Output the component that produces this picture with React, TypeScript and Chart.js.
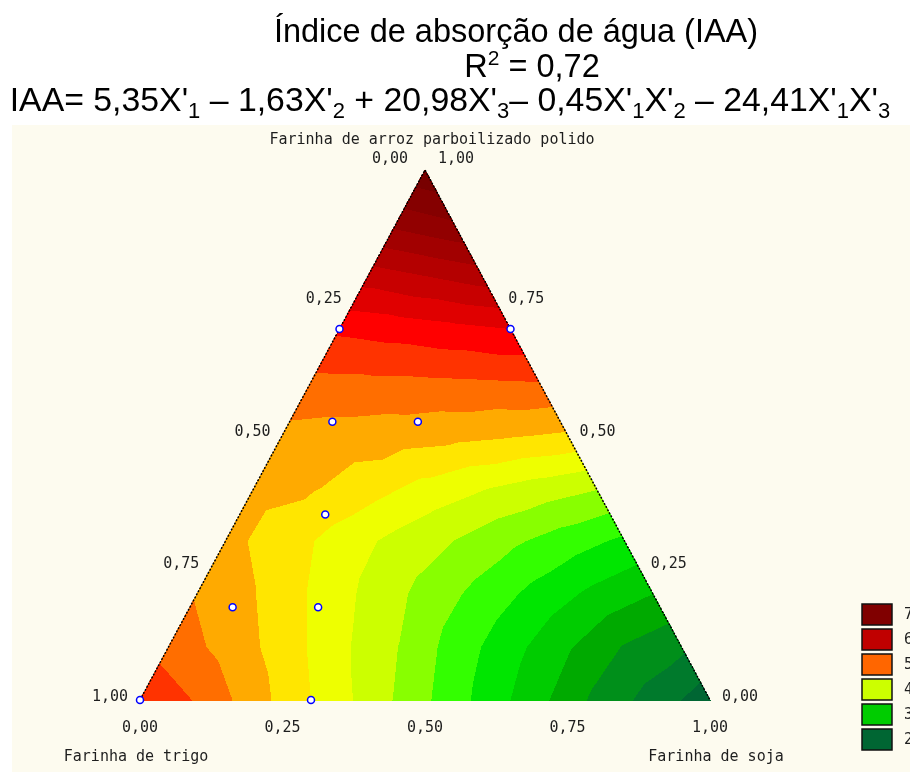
import { useEffect, useRef } from 'react';
import { Chart, registerables } from 'chart.js';

Chart.register(...registerables);

// ---- Data ----
// Experimental design points (fractions of rice flour and soy flour; wheat = 1 - rice - soy)
const RICE_POINTS = [0, 0.7, 0.7, 0, 0.35, 0.525, 0.525, 0.175, 0.175];
const SOY_POINTS = [0, 0, 0.3, 0.3, 0.15, 0.075, 0.225, 0.075, 0.225];

// IAA surface on a ternary grid (step 0.1).
// Row = rice fraction (0.0 ... 1.0); entries = soy fraction 0.0, 0.1, ... up to 1 - rice.
const IAA_R00 = [5.45, 5.23, 4.86, 4.5, 4.16, 3.79, 3.43, 3.07, 2.69, 2.4, 2.1];
const IAA_R01 = [5.16, 4.92, 4.64, 4.31, 4.01, 3.65, 3.34, 3.03, 2.73, 2.55];
const IAA_R02 = [4.98, 4.76, 4.48, 4.19, 3.92, 3.66, 3.41, 3.18, 3.0];
const IAA_R03 = [4.82, 4.64, 4.39, 4.18, 4.0, 3.8, 3.62, 3.45];
const IAA_R04 = [4.83, 4.78, 4.61, 4.42, 4.27, 4.14, 4.02];
const IAA_R05 = [4.93, 4.9, 4.87, 4.83, 4.78, 4.72];
const IAA_R06 = [5.19, 5.2, 5.21, 5.23, 5.25];
const IAA_R07 = [5.55, 5.61, 5.68, 5.75];
const IAA_R08 = [6.12, 6.25, 6.38];
const IAA_R09 = [6.83, 6.98];
const IAA_R10 = [7.45];
const IAA_GRID = [IAA_R00, IAA_R01, IAA_R02, IAA_R03, IAA_R04, IAA_R05, IAA_R06, IAA_R07, IAA_R08, IAA_R09, IAA_R10];

// Contour levels (lower bounds) and fill colours
const BAND_LEVELS = [2.0, 2.25, 2.5, 2.75, 3.0, 3.25, 3.5, 3.75, 4.0, 4.25, 4.5, 4.75, 5.0, 5.25, 5.5, 5.75, 6.0, 6.25, 6.5, 6.75, 7.0, 7.25];
const BAND_COLORS = [
  '#006633', '#007a2c', '#008f1a', '#00aa00', '#00cc00', '#00e600', '#33ff00', '#88ff00',
  '#ccff00', '#eeff00', '#ffe600', '#ffaa00', '#ff6e00', '#ff3300', '#ff0000', '#e00000',
  '#c80000', '#b40000', '#a20000', '#920000', '#850000', '#780000',
];

// Legend
const LEGEND_LABELS = ['7', '6', '5', '4', '3', '2'];
const LEGEND_COLORS = ['#800000', '#c00000', '#ff6600', '#ccff00', '#00cc00', '#006633'];

// Axis ticks
const TICK_VALUES = [0, 0.25, 0.5, 0.75, 1];
const TICK_LABELS = ['0,00', '0,25', '0,50', '0,75', '1,00'];

const TOP_NAME = 'Farinha de arroz parboilizado polido';
const LEFT_NAME = 'Farinha de trigo';
const RIGHT_NAME = 'Farinha de soja';

const TITLE_LINE1 = 'Índice de absorção de água (IAA)';
const TITLE_R2 = '0,72';
type Seg = [string, 'n' | 'sub'];
const EQUATION: Seg[] = [
  ["IAA= 5,35X'", 'n'], ['1', 'sub'], [" \u2013 1,63X'", 'n'], ['2', 'sub'],
  [" + 20,98X'", 'n'], ['3', 'sub'], ["\u2013 0,45X'", 'n'], ['1', 'sub'], ["X'", 'n'], ['2', 'sub'],
  [" \u2013 24,41X'", 'n'], ['1', 'sub'], ["X'", 'n'], ['3', 'sub'],
];

// ---- helpers ----
const toXY = (rice: number, soy: number) => ({ x: soy + rice / 2, y: rice });

function hexToRgb(h: string): [number, number, number] {
  const n = parseInt(h.slice(1), 16);
  return [(n >> 16) & 255, (n >> 8) & 255, n & 255];
}

function sampleGrid(r: number, s: number): number {
  const N = IAA_GRID.length - 1;
  const g = (i: number, j: number) => {
    const row = IAA_GRID[Math.max(0, Math.min(N, i))];
    return row[Math.max(0, Math.min(row.length - 1, j))];
  };
  const a = Math.max(0, r * N);
  const b = Math.max(0, s * N);
  const i0 = Math.floor(a);
  const j0 = Math.floor(b);
  if (i0 >= N) return g(N, 0);
  let fa = a - i0;
  let fb = b - j0;
  if (i0 + j0 >= N) return g(i0, N - i0);
  if (fa + fb <= 1) {
    return g(i0, j0) * (1 - fa - fb) + g(i0 + 1, j0) * fa + g(i0, j0 + 1) * fb;
  }
  if (i0 + j0 + 2 > N) {
    const t = fa + fb;
    fa /= t; fb /= t;
    return g(i0 + 1, j0) * fa + g(i0, j0 + 1) * fb;
  }
  return g(i0 + 1, j0 + 1) * (fa + fb - 1) + g(i0 + 1, j0) * (1 - fb) + g(i0, j0 + 1) * (1 - fa);
}

function bandIndex(v: number): number {
  let k = 0;
  for (let i = 0; i < BAND_LEVELS.length; i++) if (v >= BAND_LEVELS[i]) k = i;
  return k;
}

const backgroundPlugin = {
  id: 'bgPlugin',
  beforeDraw(chart: any) {
    const ctx = chart.ctx as CanvasRenderingContext2D;
    ctx.save();
    ctx.fillStyle = '#ffffff';
    ctx.fillRect(0, 0, chart.width, chart.height);
    ctx.fillStyle = '#fdfbef';
    ctx.fillRect(12, 125, chart.width - 12, chart.height - 125);
    ctx.restore();
  },
};

const contourPlugin = {
  id: 'contourPlugin',
  beforeDatasetsDraw(chart: any) {
    const ctx = chart.ctx as CanvasRenderingContext2D;
    const ca = chart.chartArea;
    const xs = chart.scales.x;
    const ys = chart.scales.y;
    const left = Math.floor(ca.left) - 1;
    const top = Math.floor(ca.top) - 1;
    const w = Math.ceil(ca.right) - left + 2;
    const h = Math.ceil(ca.bottom) - top + 2;
    const off = document.createElement('canvas');
    off.width = w;
    off.height = h;
    const octx = off.getContext('2d')!;
    const img = octx.createImageData(w, h);
    const rgb = BAND_COLORS.map(hexToRgb);
    for (let py = 0; py < h; py++) {
      const Y = ys.getValueForPixel(top + py + 0.5);
      for (let px = 0; px < w; px++) {
        const X = xs.getValueForPixel(left + px + 0.5);
        const r = Y;
        const s = X - Y / 2;
        const wv = 1 - r - s;
        if (r < -0.001 || s < -0.001 || wv < -0.001) continue;
        const v = sampleGrid(Math.min(1, Math.max(0, r)), Math.min(1, Math.max(0, s)));
        const c = rgb[bandIndex(v)];
        const k = (py * w + px) * 4;
        img.data[k] = c[0];
        img.data[k + 1] = c[1];
        img.data[k + 2] = c[2];
        img.data[k + 3] = 255;
      }
    }
    octx.putImageData(img, 0, 0);
    ctx.drawImage(off, left, top);
  },
};

function drawSegments(ctx: CanvasRenderingContext2D, segs: Seg[], cx: number, baseline: number, size: number) {
  const mainFont = `${size}px "Liberation Sans", Arial, sans-serif`;
  const subFont = `${Math.round(size * 0.64)}px "Liberation Sans", Arial, sans-serif`;
  let total = 0;
  const widths = segs.map(([t, k]) => {
    ctx.font = k === 'n' ? mainFont : subFont;
    const wd = ctx.measureText(t).width;
    total += wd;
    return wd;
  });
  let x = cx - total / 2;
  ctx.textAlign = 'left';
  ctx.textBaseline = 'alphabetic';
  segs.forEach(([t, k], i) => {
    ctx.font = k === 'n' ? mainFont : subFont;
    ctx.fillText(t, x, k === 'n' ? baseline : baseline + size * 0.22);
    x += widths[i];
  });
}

const textPlugin = {
  id: 'textPlugin',
  afterDraw(chart: any) {
    const ctx = chart.ctx as CanvasRenderingContext2D;
    const xs = chart.scales.x;
    const ys = chart.scales.y;
    const pix = (rice: number, soy: number) => {
      const p = toXY(rice, soy);
      return { x: xs.getPixelForValue(p.x), y: ys.getPixelForValue(p.y) };
    };
    ctx.save();
    // Titles
    ctx.fillStyle = '#000000';
    const tSize = 32.5;
    const font = (sz: number) => `${sz}px "Liberation Sans", Arial, sans-serif`;
    ctx.font = font(tSize);
    ctx.textAlign = 'center';
    ctx.textBaseline = 'alphabetic';
    ctx.fillText(TITLE_LINE1, 516, 42);
    // R² line
    const rMain = 'R';
    const rRest = ' = ' + TITLE_R2;
    ctx.font = font(tSize);
    const wR = ctx.measureText(rMain).width;
    const wRest = ctx.measureText(rRest).width;
    ctx.font = font(Math.round(tSize * 0.64));
    const wSup = ctx.measureText('2').width;
    const x0 = 532 - (wR + wSup + wRest) / 2;
    ctx.textAlign = 'left';
    ctx.font = font(tSize);
    ctx.fillText(rMain, x0, 77);
    ctx.font = font(Math.round(tSize * 0.64));
    ctx.fillText('2', x0 + wR, 77 - tSize * 0.38);
    ctx.font = font(tSize);
    ctx.fillText(rRest, x0 + wR + wSup, 77);
    // Equation
    drawSegments(ctx, EQUATION, 450, 111, 33.8);

    // Axis labels
    ctx.fillStyle = '#1e1e1e';
    ctx.font = '15px "DejaVu Sans Mono", monospace';
    ctx.textBaseline = 'middle';
    const apex = pix(1, 0);
    ctx.textAlign = 'center';
    ctx.fillText(TOP_NAME, 432, 140);
    ctx.textAlign = 'right';
    ctx.fillText(TICK_LABELS[0], apex.x - 17, apex.y - 11);
    ctx.textAlign = 'left';
    ctx.fillText(TICK_LABELS[4], apex.x + 13, apex.y - 11);
    // left edge: wheat fraction (0 at apex, 1 at bottom-left)
    TICK_VALUES.forEach((f, i) => {
      if (i === 0) return;
      const p = pix(1 - f, 0);
      ctx.textAlign = 'right';
      ctx.fillText(TICK_LABELS[i], p.x - 12, p.y - 3);
    });
    // right edge: rice fraction (1 at apex, 0 at bottom-right)
    TICK_VALUES.forEach((f, i) => {
      if (i === 4) return;
      const p = pix(f, 1 - f);
      ctx.textAlign = 'left';
      ctx.fillText(TICK_LABELS[i], p.x + 12, p.y - 3);
    });
    // bottom: soy fraction
    TICK_VALUES.forEach((f, i) => {
      const p = pix(0, f);
      ctx.textAlign = 'center';
      ctx.fillText(TICK_LABELS[i], p.x, p.y + 28);
    });
    const bl = pix(0, 0);
    const br = pix(0, 1);
    ctx.textAlign = 'center';
    ctx.fillText(LEFT_NAME, bl.x - 4, bl.y + 57);
    ctx.fillText(RIGHT_NAME, br.x + 6, br.y + 57);

    // Legend
    LEGEND_COLORS.forEach((c, i) => {
      const y = 604 + i * 25;
      ctx.fillStyle = c;
      ctx.fillRect(862, y, 30, 21);
      ctx.strokeStyle = '#111111';
      ctx.lineWidth = 1.5;
      ctx.strokeRect(862, y, 30, 21);
      ctx.fillStyle = '#1e1e1e';
      ctx.textAlign = 'left';
      ctx.fillText(LEGEND_LABELS[i], 904, y + 11);
    });
    ctx.restore();
  },
};

export default function App() {
  const ref = useRef<HTMLCanvasElement>(null);
  useEffect(() => {
    if (!ref.current) return;
    const pts = RICE_POINTS.map((r, i) => toXY(r, SOY_POINTS[i]));
    const tri = [toXY(0, 0), toXY(1, 0), toXY(0, 1)];
    const chart = new Chart(ref.current, {
      type: 'scatter',
      data: {
        datasets: [
          {
            data: pts,
            pointRadius: 3.5,
            pointBorderWidth: 1.5,
            pointBorderColor: '#0000ff',
            pointBackgroundColor: '#ffffff',
            clip: false,
          } as any,
          {
            data: tri,
            showLine: true,
            borderColor: '#000000',
            borderWidth: 1.5,
            borderDash: [2, 1.5],
            pointRadius: 0,
            clip: false,
          } as any,
        ],
      },
      options: {
        responsive: false,
        animation: false,
        devicePixelRatio: 1,
        layout: { padding: { left: 140, right: 200, top: 170, bottom: 72 } },
        scales: {
          x: { type: 'linear', min: 0, max: 1, display: false },
          y: { type: 'linear', min: 0, max: 1, display: false },
        },
        plugins: { legend: { display: false }, tooltip: { enabled: false }, title: { display: false } },
        events: [],
      },
      plugins: [backgroundPlugin, contourPlugin, textPlugin],
    });
    return () => chart.destroy();
  }, []);
  return (
    <div style={{ position: 'absolute', left: 0, top: 0, width: 910, height: 772 }}>
      <canvas ref={ref} width={910} height={772} style={{ display: 'block', width: 910, height: 772 }} />
    </div>
  );
}
